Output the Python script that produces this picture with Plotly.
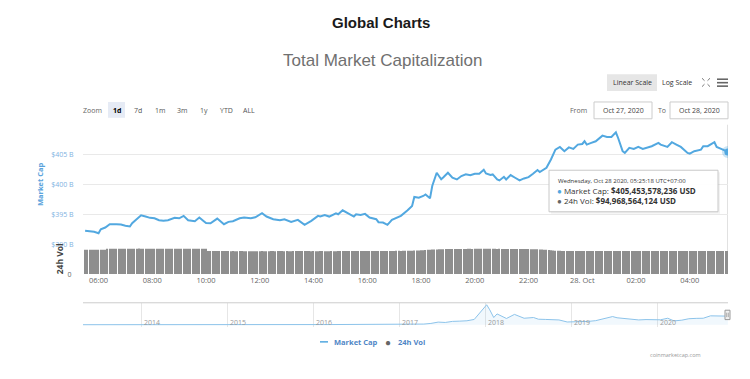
import plotly.graph_objects as go
import pandas as pd

# The page body has an 8px margin, so the figure is drawn at (8, 8) in the window.
OFF = 8
W, H = 742, 371


def px(x):
    return (x - OFF) / W


def py(y):
    return 1 - (y - OFF) / H


# ---------------- data ----------------
cap_times = [
    "2020-10-27 05:30", "2020-10-27 05:50", "2020-10-27 06:00", "2020-10-27 06:05", "2020-10-27 06:15",
    "2020-10-27 06:25", "2020-10-27 06:40", "2020-10-27 06:50", "2020-10-27 07:00", "2020-10-27 07:10",
    "2020-10-27 07:15", "2020-10-27 07:25", "2020-10-27 07:35", "2020-10-27 07:45", "2020-10-27 07:55",
    "2020-10-27 08:05", "2020-10-27 08:15", "2020-10-27 08:25", "2020-10-27 08:35", "2020-10-27 08:50",
    "2020-10-27 09:00", "2020-10-27 09:10", "2020-10-27 09:20", "2020-10-27 09:35", "2020-10-27 09:45",
    "2020-10-27 09:55", "2020-10-27 10:00", "2020-10-27 10:10", "2020-10-27 10:25", "2020-10-27 10:40",
    "2020-10-27 10:50", "2020-10-27 11:00", "2020-10-27 11:15", "2020-10-27 11:25", "2020-10-27 11:40",
    "2020-10-27 11:50", "2020-10-27 12:05", "2020-10-27 12:15", "2020-10-27 12:30", "2020-10-27 12:45",
    "2020-10-27 12:55", "2020-10-27 13:10", "2020-10-27 13:25", "2020-10-27 13:40", "2020-10-27 13:55",
    "2020-10-27 14:10", "2020-10-27 14:15", "2020-10-27 14:25", "2020-10-27 14:35", "2020-10-27 14:50",
    "2020-10-27 14:55", "2020-10-27 15:05", "2020-10-27 15:20", "2020-10-27 15:30", "2020-10-27 15:35",
    "2020-10-27 15:45", "2020-10-27 15:55", "2020-10-27 16:05", "2020-10-27 16:20", "2020-10-27 16:25",
    "2020-10-27 16:35", "2020-10-27 16:45", "2020-10-27 16:55", "2020-10-27 17:05", "2020-10-27 17:15",
    "2020-10-27 17:30", "2020-10-27 17:40", "2020-10-27 17:45", "2020-10-27 17:55", "2020-10-27 18:05",
    "2020-10-27 18:10", "2020-10-27 18:20", "2020-10-27 18:25", "2020-10-27 18:35", "2020-10-27 18:45",
    "2020-10-27 18:50", "2020-10-27 19:00", "2020-10-27 19:10", "2020-10-27 19:20", "2020-10-27 19:30",
    "2020-10-27 19:40", "2020-10-27 19:50", "2020-10-27 20:00", "2020-10-27 20:10", "2020-10-27 20:20",
    "2020-10-27 20:25", "2020-10-27 20:35", "2020-10-27 20:40", "2020-10-27 20:50", "2020-10-27 20:55",
    "2020-10-27 21:05", "2020-10-27 21:10", "2020-10-27 21:20", "2020-10-27 21:30", "2020-10-27 21:40",
    "2020-10-27 21:50", "2020-10-27 22:00", "2020-10-27 22:10", "2020-10-27 22:20", "2020-10-27 22:25",
    "2020-10-27 22:35", "2020-10-27 22:40", "2020-10-27 22:50", "2020-10-27 23:00", "2020-10-27 23:10",
    "2020-10-27 23:20", "2020-10-27 23:30", "2020-10-27 23:40", "2020-10-27 23:50", "2020-10-28 00:00",
    "2020-10-28 00:05", "2020-10-28 00:10", "2020-10-28 00:20", "2020-10-28 00:30", "2020-10-28 00:45",
    "2020-10-28 00:55", "2020-10-28 01:05", "2020-10-28 01:15", "2020-10-28 01:20", "2020-10-28 01:30",
    "2020-10-28 01:35", "2020-10-28 01:45", "2020-10-28 01:55", "2020-10-28 02:05", "2020-10-28 02:15",
    "2020-10-28 02:25", "2020-10-28 02:35", "2020-10-28 02:50", "2020-10-28 02:55", "2020-10-28 03:10",
    "2020-10-28 03:20", "2020-10-28 03:30", "2020-10-28 03:40", "2020-10-28 03:55", "2020-10-28 04:00",
    "2020-10-28 04:10", "2020-10-28 04:25", "2020-10-28 04:30", "2020-10-28 04:40", "2020-10-28 04:55",
    "2020-10-28 05:00", "2020-10-28 05:10", "2020-10-28 05:25",
]
# Total market cap, billions USD
cap_values = [
    392.23, 392.07, 391.83, 392.50, 392.78, 393.33, 393.33, 393.28, 393.07, 392.95,
    393.50, 394.17, 394.83, 394.62, 394.40, 394.33, 394.00, 393.90, 394.00, 394.40,
    394.33, 394.73, 394.00, 393.83, 394.45, 393.83, 393.53, 393.50, 394.28, 393.33,
    393.73, 393.83, 394.33, 394.45, 394.33, 394.50, 395.17, 394.62, 394.17, 394.00,
    394.17, 393.73, 394.07, 393.23, 393.90, 394.73, 394.62, 394.87, 394.62, 395.17,
    395.00, 395.67, 395.00, 394.62, 395.00, 394.90, 395.07, 394.45, 394.17, 393.67,
    393.62, 393.23, 394.07, 394.45, 394.73, 395.67, 396.40, 397.90, 397.78, 398.07,
    398.33, 397.67, 399.73, 401.95, 400.87, 401.20, 401.95, 401.12, 400.83, 401.40,
    401.70, 401.53, 401.78, 401.78, 402.45, 401.83, 401.57, 401.67, 400.83, 400.67,
    401.28, 400.83, 401.57, 401.12, 400.67, 401.00, 401.23, 401.78, 402.40, 402.07,
    402.50, 402.78, 404.17, 405.83, 406.28, 405.57, 406.20, 405.95, 406.67, 406.78,
    407.23, 406.67, 406.95, 407.23, 408.17, 407.95, 407.95, 408.73, 407.78, 405.57,
    405.28, 406.12, 405.95, 406.28, 405.95, 406.12, 406.40, 406.95, 406.67, 406.28,
    407.07, 406.67, 406.28, 405.28, 405.17, 405.57, 405.83, 406.40, 406.40, 407.07,
    406.28, 405.95, 405.45,
]

# 24h volume, billions USD, one bar every 5 minutes from 05:30
vol_start = "2020-10-27 05:30"
vol_values = [
    100.1, 100.3, 100.2, 100.4, 100.5, 100.3, 100.2, 100.4, 100.6, 100.5,
    103.8, 104.1, 104.3, 104.2, 104.4, 104.6, 104.5, 104.3, 104.4, 104.7,
    104.6, 104.5, 104.4, 104.6, 104.8, 104.7, 104.5, 104.4, 104.3, 104.5,
    104.6, 104.4, 104.3, 104.2, 104.4, 104.5, 104.3, 104.2, 104.1, 104.3,
    104.4, 104.2, 104.1, 104.0, 104.2, 104.3, 104.1, 104.0, 103.9, 104.1,
    104.2, 104.0, 103.9, 103.8, 104.0,
    95.1, 94.9, 94.8, 94.7, 94.9, 94.8, 94.6, 94.7, 94.5, 94.6,
    94.4, 94.5, 94.3, 94.4, 94.6, 94.5, 94.3, 94.2, 94.4, 94.3,
    94.1, 94.2, 94.4, 94.3, 94.5, 94.4, 94.2, 94.3, 94.5, 94.6,
    94.4, 94.5, 94.7, 94.6, 94.4, 94.5, 94.3, 94.4, 94.6, 94.5,
    94.7, 94.8, 94.6, 94.5, 94.7, 94.6, 94.4, 94.5, 94.3, 94.4,
    94.6, 94.5, 94.3, 94.2, 94.4, 94.5, 94.3, 94.4, 94.6, 94.5,
    94.7, 94.6, 94.8, 94.9, 94.7, 94.6, 94.8, 94.7, 94.5, 94.6,
    94.8, 94.9, 95.1, 95.0, 94.8, 94.9, 95.1, 95.2, 95.0, 95.1,
    95.3, 95.4, 95.2, 95.3, 95.5, 95.6, 95.4, 95.5, 95.7, 95.8,
    96.0, 96.2, 96.5, 96.8, 97.2, 97.8, 98.5, 99.2, 99.8, 100.3,
    100.8, 101.2, 101.5, 101.9, 102.2, 102.4, 102.7, 102.9, 103.1, 103.0,
    103.2, 103.4, 103.3, 103.5, 103.6, 103.5, 103.7, 103.8, 103.6, 103.7,
    103.9, 103.8, 103.7, 103.9, 104.0, 103.8, 103.7, 103.9, 103.8, 103.6,
    103.7, 103.5, 103.4, 103.6, 103.5, 103.3, 103.2, 103.4, 103.3, 103.1,
    103.0, 102.8, 102.9, 102.7, 102.5, 102.6, 102.3, 102.0, 101.6, 101.1,
    100.5, 99.7, 98.8, 97.9, 97.0, 96.3,
    95.8, 95.5, 95.3, 95.1, 95.0, 94.9, 95.0, 94.8, 94.7, 94.9,
    94.8, 94.6, 94.7, 94.9, 94.8, 94.6, 94.5, 94.7, 94.6, 94.8,
    94.9, 94.7, 94.6, 94.8, 94.9, 95.0, 94.8, 94.7, 94.9, 95.0,
    94.9, 94.7, 94.8, 95.0, 95.1, 94.9, 94.8, 95.0, 95.1, 94.9,
    94.8, 94.7, 94.9, 95.0, 94.8, 94.7, 94.9, 95.0, 95.1, 94.9,
    94.8, 95.0, 95.1, 95.2, 95.0, 94.9, 95.1, 95.2, 95.0, 94.9,
    95.1, 95.0, 94.8, 94.9, 95.1, 95.0, 94.9, 95.1, 95.2, 95.0,
    94.9, 95.0, 95.1, 94.9, 95.0, 94.9, 94.97,
]

# Navigator: full history of total market cap (billions USD), monthly
nav_dates = [
    "2013-04-28", "2013-05-15", "2013-06-15", "2013-07-15", "2013-08-15", "2013-09-15", "2013-10-15", "2013-11-30", "2013-12-15",
    "2014-01-15", "2014-02-15", "2014-03-15", "2014-04-15", "2014-05-15", "2014-06-15", "2014-07-15", "2014-08-15", "2014-09-15", "2014-10-15", "2014-11-15", "2014-12-15",
    "2015-01-15", "2015-02-15", "2015-03-15", "2015-04-15", "2015-05-15", "2015-06-15", "2015-07-15", "2015-08-15", "2015-09-15", "2015-10-15", "2015-11-15", "2015-12-15",
    "2016-01-15", "2016-02-15", "2016-03-15", "2016-04-15", "2016-05-15", "2016-06-15", "2016-07-15", "2016-08-15", "2016-09-15", "2016-10-15", "2016-11-15", "2016-12-15",
    "2017-01-15", "2017-02-15", "2017-03-15", "2017-04-15", "2017-05-15", "2017-06-15", "2017-07-15", "2017-08-15", "2017-09-15", "2017-10-15", "2017-11-15", "2017-12-15",
    "2018-01-07", "2018-01-20", "2018-02-06", "2018-02-20", "2018-03-05", "2018-04-01", "2018-05-05", "2018-06-15", "2018-07-25", "2018-08-15", "2018-09-15", "2018-10-15", "2018-11-10", "2018-12-15",
    "2019-01-15", "2019-02-15", "2019-03-15", "2019-04-15", "2019-05-15", "2019-06-26", "2019-07-15", "2019-08-15", "2019-09-15", "2019-10-15", "2019-11-15", "2019-12-15",
    "2020-01-15", "2020-02-15", "2020-03-13", "2020-04-15", "2020-05-15", "2020-06-15", "2020-07-15", "2020-08-15", "2020-09-15", "2020-10-15", "2020-10-28",
]
nav_values = [
    1.5, 1.3, 1.1, 1.0, 1.3, 1.6, 2.2, 12, 8,
    10, 8, 7, 6, 7, 8, 8, 6.5, 5.5, 5, 5.5, 4.5,
    3.5, 3.5, 4, 3.5, 3.5, 3.5, 4.5, 3.5, 3.6, 4.5, 5.5, 6.8,
    6.8, 7.3, 8, 8, 9, 11.5, 11, 10, 10.5, 11, 12, 14,
    17, 19, 25, 28, 55, 110, 95, 140, 150, 165, 220, 550,
    830, 620, 300, 450, 380, 260, 430, 270, 300, 230, 220, 210, 200, 115,
    120, 125, 140, 170, 240, 340, 290, 270, 230, 200, 215, 195,
    205, 270, 160, 190, 250, 265, 270, 370, 350, 360, 405,
]

x_tick_vals = ["2020-10-27 06:00", "2020-10-27 08:00", "2020-10-27 10:00", "2020-10-27 12:00",
               "2020-10-27 14:00", "2020-10-27 16:00", "2020-10-27 18:00", "2020-10-27 20:00",
               "2020-10-27 22:00", "2020-10-28 00:00", "2020-10-28 02:00", "2020-10-28 04:00"]
x_tick_text = ["06:00", "08:00", "10:00", "12:00", "14:00", "16:00", "18:00", "20:00",
               "22:00", "28. Oct", "02:00", "04:00"]
cap_tick_vals = [390, 395, 400, 405, 410]
cap_tick_text = ["$390 B", "$395 B", "$400 B", "$405 B", ""]
year_ticks = ["2014-01-01", "2015-01-01", "2016-01-01", "2017-01-01", "2018-01-01", "2019-01-01", "2020-01-01"]
year_labels = ["2014", "2015", "2016", "2017", "2018", "2019", "2020"]
zoom_buttons = ["1d", "7d", "1m", "3m", "1y", "YTD", "ALL"]

tooltip_date = "Wednesday, Oct 28 2020, 05:25:18 UTC+07:00"
tooltip_cap = 405453578236
tooltip_vol = 94968564124

# ---------------- style ----------------
LINE = "#52a8e0"
FONT = "Open Sans"
vol_times = pd.date_range(vol_start, periods=len(vol_values), freq="5min")

fig = go.Figure()
fig.add_trace(go.Bar(x=vol_times, y=vol_values, xaxis="x", yaxis="y2",
                     marker=dict(color="#8e8e8e", line=dict(width=0)), hoverinfo="skip"))
fig.add_trace(go.Scatter(x=cap_times, y=cap_values, mode="lines", xaxis="x", yaxis="y",
                         line=dict(color=LINE, width=2), hoverinfo="skip"))
fig.add_trace(go.Scatter(x=[cap_times[-1]], y=[cap_values[-1]], mode="markers", xaxis="x", yaxis="y",
                         marker=dict(size=7, color=LINE, line=dict(width=5, color="rgba(82,168,224,0.3)")),
                         hoverinfo="skip"))
fig.add_trace(go.Scatter(x=nav_dates, y=nav_values, mode="lines", xaxis="x3", yaxis="y3",
                         fill="tozeroy", fillcolor="rgba(82,168,224,0.08)",
                         line=dict(color="#8cc3ea", width=1), hoverinfo="skip"))

X0, X1 = 83, 728
fig.update_layout(
    width=W, height=H, margin=dict(l=0, r=0, t=0, b=0),
    paper_bgcolor="white", plot_bgcolor="white", showlegend=False,
    bargap=0.5,
    font=dict(family=FONT, color="#666"),
    xaxis=dict(domain=[px(X0), px(X1)], anchor="y2", type="date",
               range=["2020-10-27 05:25:18", "2020-10-28 05:25:18"],
               tickvals=x_tick_vals, ticktext=x_tick_text, tickangle=0,
               tickfont=dict(size=7.5, color="#666", family=FONT),
               showgrid=False, zeroline=False, showline=False, ticks=""),
    yaxis=dict(domain=[py(247), py(126)], anchor="x", range=[389.95, 410],
               tickvals=cap_tick_vals, ticktext=cap_tick_text,
               tickfont=dict(size=7, color="#7fb2df", family=FONT),
               ticks="outside", ticklen=7, tickcolor="rgba(0,0,0,0)",
               showgrid=True, gridcolor="#e9e9e9", gridwidth=1, zeroline=False, showline=False),
    yaxis2=dict(domain=[py(277), py(247)], anchor="x", range=[0, 122],
                tickvals=[0], ticktext=["0"], tickfont=dict(size=7, color="#666", family=FONT),
                ticks="outside", ticklen=9, tickcolor="rgba(0,0,0,0)",
                showgrid=False, zeroline=False, showline=False),
    xaxis3=dict(domain=[px(X0), px(X1)], anchor="y3", type="date",
                range=["2013-04-28", "2020-10-28 05:25"],
                tickvals=year_ticks, showticklabels=False, ticks="",
                showgrid=True, gridcolor="#e6e6e6", zeroline=False, showline=False),
    yaxis3=dict(domain=[py(330), py(306)], anchor="x3", range=[-74, 912], visible=False),
)

shapes = []
ann = []


def txt(x, y, s, size=7.5, color="#666", anchor="center", family=FONT, angle=0):
    ann.append(dict(x=px(x), y=py(y), xref="paper", yref="paper", text=s,
                    showarrow=False, xanchor=anchor, yanchor="middle", textangle=angle,
                    font=dict(size=size, color=color, family=family)))


def rect(x0, y0, x1, y1, fill, line="rgba(0,0,0,0)", width=1, layer="above"):
    shapes.append(dict(type="rect", xref="paper", yref="paper", x0=px(x0), x1=px(x1), y0=py(y1), y1=py(y0),
                       fillcolor=fill, line=dict(color=line, width=width), layer=layer))


def seg(x0, y0, x1, y1, color, width=1):
    shapes.append(dict(type="line", xref="paper", yref="paper", x0=px(x0), x1=px(x1), y0=py(y0), y1=py(y1),
                       line=dict(color=color, width=width)))


# titles
txt(381, 23, "<b>Global Charts</b>", size=15, color="#1a1a1a", family="Liberation Sans")
txt(382, 61, "Total Market Capitalization", size=17, color="#707070", family="Liberation Sans")

# scale buttons
rect(607, 75, 657, 92, "#e6e6e6")
txt(632, 83.5, "Linear Scale", size=7, color="#333")
txt(677, 83.5, "Log Scale", size=7, color="#333")
# fullscreen icon
for (ax, ay, bx, by) in [(702, 79, 704.5, 81.5), (710, 79, 707.5, 81.5), (702, 87.5, 704.5, 85), (710, 87.5, 707.5, 85)]:
    seg(ax, ay, bx, by, "#777", 1)
# hamburger
for yy in (80, 83.5, 87):
    seg(717, yy, 728, yy, "#666", 1.6)

# zoom row
txt(92.5, 111.5, "Zoom", size=7, color="#666")
rect(108, 103, 125, 119, "#e6ebf5")
btn_x = [116.5, 138, 160, 182, 204, 226.5, 249]
for bx_, lbl in zip(btn_x, zoom_buttons):
    txt(bx_, 111.5, "<b>%s</b>" % lbl if lbl == "1d" else lbl, size=7, color="#000" if lbl == "1d" else "#555")
# date range inputs
txt(589, 111.5, "From", size=7, color="#666", anchor="right")
rect(594, 103, 652, 120, "white", "#cccccc")
txt(623, 111.5, "Oct 27, 2020", size=7, color="#444")
txt(662, 111.5, "To", size=7, color="#666")
rect(670, 103, 728, 120, "white", "#cccccc")
txt(699, 111.5, "Oct 28, 2020", size=7, color="#444")

# axis titles
txt(40, 186, "<b>Market Cap</b>", size=7.5, color="#5aa3dc", angle=-90)
txt(59, 262, "<b>24h Vol</b>", size=8.5, color="#444", angle=-90)

# crosshair at hovered point
shapes.append(dict(type="line", xref="x", yref="paper", x0=cap_times[-1], x1=cap_times[-1],
                   y0=py(277), y1=py(126), line=dict(color="#d0d0d0", width=1), layer="below"))

# navigator outline + handle
seg(X0, 306, X1, 306, "#cccccc", 1)
rect(725, 313.5, 730, 323, "#f2f2f2", "#999999", 1)
seg(726.7, 316, 726.7, 320.5, "#999", 0.8)
seg(728.3, 316, 728.3, 320.5, "#999", 0.8)
for yt, yl in zip(year_ticks, year_labels):
    ann.append(dict(x=yt, y=py(326), xref="x3", yref="paper", text=yl, showarrow=False,
                    xanchor="left", yanchor="middle", xshift=1,
                    font=dict(size=7, color="#9a9a9a", family=FONT)))

# tooltip
rect(551, 174, 720, 216, "rgba(0,0,0,0.05)")
rect(549, 172, 718, 214, "rgba(255,255,255,0.95)", "#c8c8c8", 1)
txt(556, 182.5, tooltip_date, size=6, color="#333", anchor="left")
txt(555, 192.5, "<span style='color:%s'>●</span> Market Cap: <b>$%s USD</b>" % (LINE, format(tooltip_cap, ",")),
    size=8, color="#333", anchor="left")
txt(555, 203, "<span style='color:#666'>●</span> 24h Vol: <b>$%s USD</b>" % format(tooltip_vol, ","),
    size=8, color="#333", anchor="left")

# legend
seg(320, 345.5, 328, 345.5, LINE, 1.5)
txt(332, 345.5, "<b>Market Cap</b>", size=7.5, color="#4f86c6", anchor="left")
txt(388, 345.5, "●", size=10, color="#666")
txt(396, 345.5, "<b>24h Vol</b>", size=7.5, color="#4f86c6", anchor="left")

# credit
txt(703, 358.5, "coinmarketcap.com", size=5.5, color="#999", anchor="right")

fig.update_layout(shapes=shapes, annotations=ann)
fig.write_html("out.html")
